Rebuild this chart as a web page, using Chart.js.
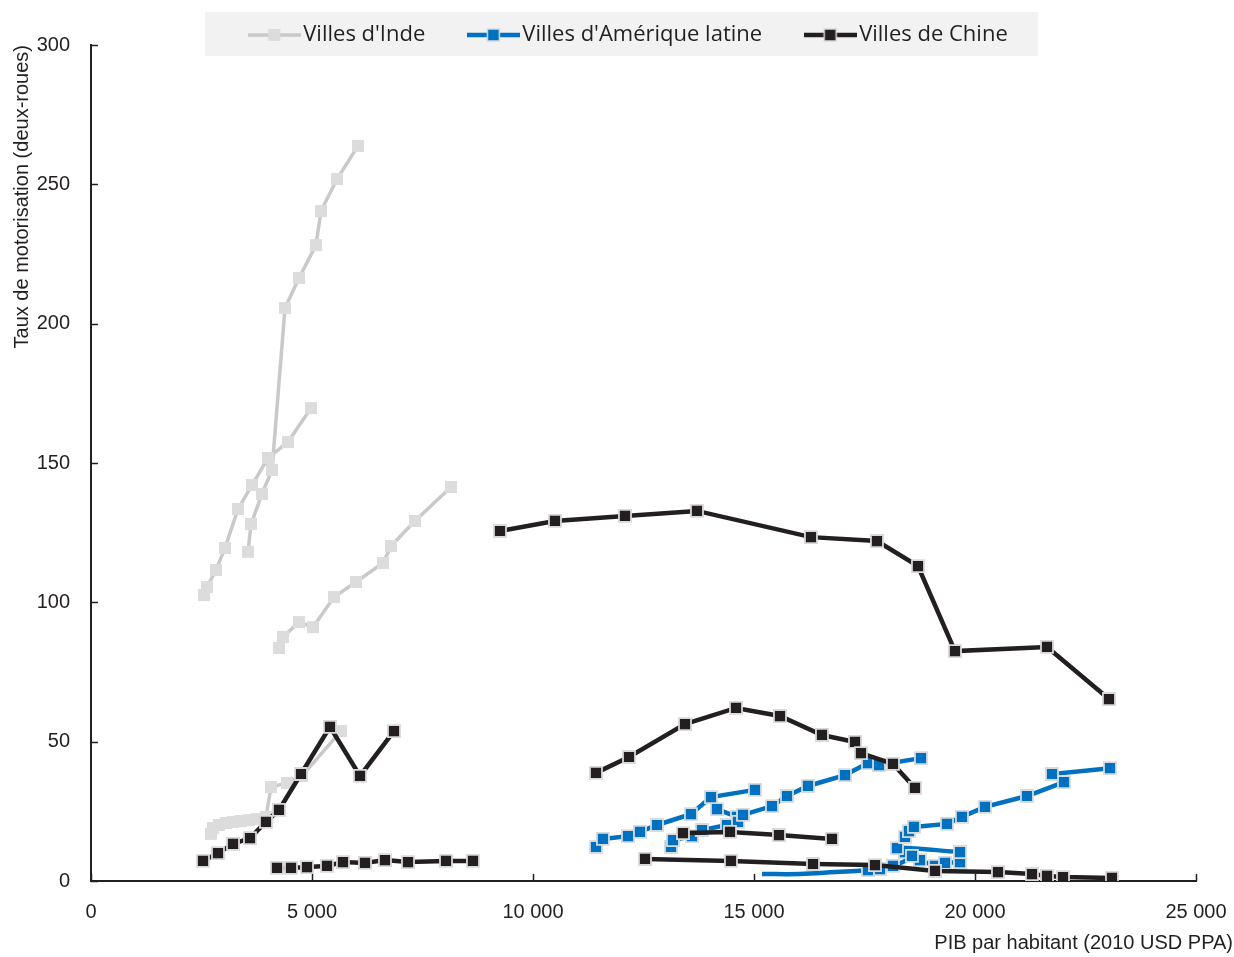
<!DOCTYPE html>
<html>
<head>
<meta charset="utf-8">
<script src="https://cdn.jsdelivr.net/npm/chart.js@4.4.1/dist/chart.umd.min.js"></script>
<style>
  html, body { margin: 0; padding: 0; background: #ffffff; }
</style>
</head>
<body>
<canvas id="chart" width="1234" height="957"></canvas>
<script>
// Two-wheeler motorisation rate vs GDP per capita, one polyline per city.
// Each point: [PIB par habitant (2010 USD PPA), taux de motorisation].

// Villes d'Inde
const inde1 = [[2557,102.6],[2624,105.5],[2828,111.6],[3032,119.5],[3326,133.5],[3643,142.1],[4005,151.8],[4457,157.5],[4977,169.7]];
const inde2 = [[3552,118.1],[3620,128.1],[3869,138.9],[4095,147.5],[4389,205.6],[4706,216.4],[5090,228.2],[5204,240.4],[5566,251.9],[6041,263.8]];
const inde3 = [[4253,83.6],[4344,87.6],[4706,92.9],[5023,91.1],[5498,101.9],[5995,107.3],[6606,114.1],[6787,120.2],[7330,129.2],[8145,141.4]];
const inde4 = [[2715,16.9],[2760,19.0],[2896,20.1],[3054,20.8],[3213,21.2],[3394,21.5],[3575,21.9],[3756,22.2],[3959,23.0],[4072,33.7],[4434,35.2],[4774,37.7],[5656,53.8]];

// Villes d'Amérique latine
const amlat1 = [[11425,12.2],[11583,15.1],[12149,16.1],[12420,17.6],[12805,20.1],[13574,24.0],[14027,30.1],[15022,32.7]];
const amlat2 = [[13122,12.2],[13167,14.7],[13597,16.1],[13823,18.3],[14389,20.1],[14638,21.2],[14751,23.7],[15407,26.9],[15747,30.5],[16222,34.1],[17059,38.0],[17579,42.3],[17828,41.6],[18778,44.1]];
const amlat3 = [[14163,25.8],[14615,23.0]];
const amlat4 = [[18416,15.8],[18506,17.9],[18619,19.4],[19366,20.5],[19705,23.0],[20226,26.6],[21176,30.5],[22013,35.5],[21742,38.4],[23054,40.5]];
const amlat5 = [[15181,2.5],[16040,2.5],[16832,3.2],[17579,3.9],[17850,4.3],[18144,5.4],[18574,9.0],[18235,11.8],[19660,10.4]];
const amlat6 = [[18416,10.4],[18755,7.5],[19095,5.4],[19321,6.5],[19660,6.8]];

// Villes de Chine
const chine1 = [[2534,7.2],[2873,10.0],[3213,13.3],[3597,15.4],[3959,21.2],[4253,25.5],[4751,38.4],[5407,55.3],[6086,37.7],[6855,53.8]];
const chine2 = [[4208,4.7],[4525,4.7],[4887,5.0],[5339,5.4],[5701,6.8],[6199,6.5],[6651,7.5],[7172,6.8],[8032,7.2],[8642,7.2]];
const chine3 = [[9253,125.6],[10497,129.2],[12081,131.0],[13710,132.8],[16289,123.4],[17782,122.0],[18710,113.0],[19547,82.5],[21629,84.0],[23031,65.3]];
const chine4 = [[11425,38.8],[12172,44.5],[13439,56.3],[14593,62.1],[15588,59.2],[16538,52.4],[17285,49.9],[17420,45.9],[18144,42.0],[18642,33.4]];
const chine5 = [[13393,17.2],[14457,17.6],[15565,16.5],[16764,15.1]];
const chine6 = [[12534,7.9],[14479,7.2],[16335,6.1],[17737,5.7],[19095,3.6],[20520,3.2],[21289,2.5],[21629,1.8],[21991,1.4],[23099,1.1]];

const seriesNames = ["Villes d'Inde", "Villes d'Amérique latine", "Villes de Chine"];
const xTicks = [0, 5000, 10000, 15000, 20000, 25000];
const yTicks = [0, 50, 100, 150, 200, 250, 300];

const INK = '#231f20';
const styles = [
  { line: '#c9c9ca', fill: '#dcdcdd', border: '#dcdcdd', width: 3.5, order: 2 },
  { line: '#0070c0', fill: '#0070c0', border: '#d6dbe0', width: 4.5, order: 1 },
  { line: '#231f20', fill: '#231f20', border: '#d9d9d9', width: 4.5, order: 0 }
];

const groups = [
  [inde1, inde2, inde3, inde4],
  [amlat1, amlat2, amlat3, amlat4, amlat5, amlat6],
  [chine1, chine2, chine3, chine4, chine5, chine6]
];

const datasets = [];
groups.forEach((cities, g) => {
  const st = styles[g];
  cities.forEach((pts) => {
    // the low Latin-American trace starts without markers
    const radius = pts === amlat5 ? pts.map((p, i) => (i < 3 ? 0 : 8.5)) : 8.5;
    datasets.push({
      label: seriesNames[g],
      data: pts.map(([x, y]) => ({ x, y })),
      borderColor: st.line,
      borderWidth: st.width,
      backgroundColor: st.fill,
      pointStyle: 'rect',
      pointRadius: radius,
      pointBackgroundColor: st.fill,
      pointBorderColor: st.border,
      pointBorderWidth: g === 0 ? 0 : 1.8,
      tension: pts === amlat5 ? 0.35 : 0,
      order: st.order,
      fill: false
    });
  });
});

// legend symbols: a short line with the square marker in its middle
function legendSymbol(st) {
  const c = document.createElement('canvas');
  c.width = 53; c.height = 16;
  const g = c.getContext('2d');
  g.strokeStyle = st.line;
  g.lineWidth = st.width;
  g.beginPath(); g.moveTo(0, 8); g.lineTo(53, 8); g.stroke();
  g.fillStyle = st.fill;
  g.fillRect(20.5, 2, 12, 12);
  if (st.border !== st.fill) {
    g.strokeStyle = st.border; g.lineWidth = 1.5;
    g.strokeRect(20.5, 2, 12, 12);
  }
  return c;
}
const symbols = styles.map(legendSymbol);

const fmt = (v) => String(v).replace(/\B(?=(\d{3})+(?!\d))/g, ' ');

const LEGEND_PAD = 50;
const LEGEND_FONT = 22;

const decor = {
  id: 'decor',
  afterLayout(chart) {
    // legend sits in a shaded band above the plot, overlapping its top
    const lg = chart.legend;
    lg.left = 108; lg.right = 1156;
    lg.top = 35 - LEGEND_PAD - LEGEND_FONT / 2;
    lg.bottom = 60;
    lg.width = lg.right - lg.left;
    lg.height = lg.bottom - lg.top;
  },
  beforeDraw(chart) {
    const ctx = chart.ctx;
    ctx.save();
    ctx.fillStyle = '#f2f2f3';
    ctx.fillRect(205, 12, 833, 44);
    ctx.restore();
  },
  beforeDatasetsDraw(chart) {
    const { ctx, scales: { x, y } } = chart;
    ctx.save();
    ctx.strokeStyle = INK;
    ctx.lineWidth = 1.5;
    x.ticks.forEach((t) => {
      const px = Math.round(x.getPixelForValue(t.value)) + 0.5;
      ctx.beginPath(); ctx.moveTo(px, x.top); ctx.lineTo(px, x.top - 7); ctx.stroke();
    });
    y.ticks.forEach((t) => {
      const py = Math.round(y.getPixelForValue(t.value)) + 0.5;
      ctx.beginPath(); ctx.moveTo(y.right, py); ctx.lineTo(y.right + 7, py); ctx.stroke();
    });
    ctx.restore();
  },
  afterDraw(chart) {
    const ctx = chart.ctx;
    ctx.save();
    ctx.fillStyle = INK;
    ctx.font = '20px "Liberation Sans", Arial, sans-serif';
    ctx.textAlign = 'right';
    ctx.textBaseline = 'middle';
    ctx.fillText('PIB par habitant (2010 USD PPA)', chart.width - 1, 943);
    ctx.restore();
  }
};

Chart.defaults.font.family = '"Liberation Sans", Arial, sans-serif';
Chart.defaults.color = INK;

new Chart(document.getElementById('chart'), {
  type: 'line',
  data: { datasets },
  options: {
    responsive: false,
    animation: false,
    events: [],
    layout: { padding: { top: 44, right: 38, bottom: 0, left: 0 } },
    scales: {
      x: {
        type: 'linear',
        min: xTicks[0], max: xTicks[xTicks.length - 1],
        afterBuildTicks: (s) => { s.ticks = xTicks.map((v) => ({ value: v })); },
        ticks: { padding: 19, maxRotation: 0, font: { size: 20 }, color: INK, callback: (v) => fmt(v) },
        grid: { display: false, drawTicks: false },
        border: { display: true, color: INK, width: 2 },
        afterFit: (s) => { s.height = 76; s.paddingLeft = 0; s.paddingRight = 0; }
      },
      y: {
        type: 'linear',
        min: yTicks[0], max: yTicks[yTicks.length - 1],
        afterBuildTicks: (s) => { s.ticks = yTicks.map((v) => ({ value: v })); },
        ticks: { padding: 21, font: { size: 20 }, color: INK },
        grid: { display: false, drawTicks: false },
        border: { display: true, color: INK, width: 2 },
        title: {
          display: true,
          text: 'Taux de motorisation (deux-roues)',
          align: 'end',
          color: INK,
          font: { size: 20 },
          padding: { top: 10, bottom: 0 }
        },
        afterFit: (s) => { s.width = 91; }
      }
    },
    plugins: {
      tooltip: { enabled: false },
      legend: {
        display: true,
        position: 'top',
        align: 'center',
        maxHeight: 1,
        labels: {
          usePointStyle: true,
          pointStyleWidth: 36,
          padding: LEGEND_PAD,
          color: INK,
          font: { family: '"Open Sans", sans-serif', size: LEGEND_FONT },
          generateLabels: () => seriesNames.map((name, i) => ({
            text: name,
            pointStyle: symbols[i],
            fillStyle: styles[i].fill,
            strokeStyle: styles[i].line,
            lineWidth: 0,
            hidden: false,
            fontColor: INK
          }))
        }
      }
    }
  },
  plugins: [decor]
});
</script>
</body>
</html>
